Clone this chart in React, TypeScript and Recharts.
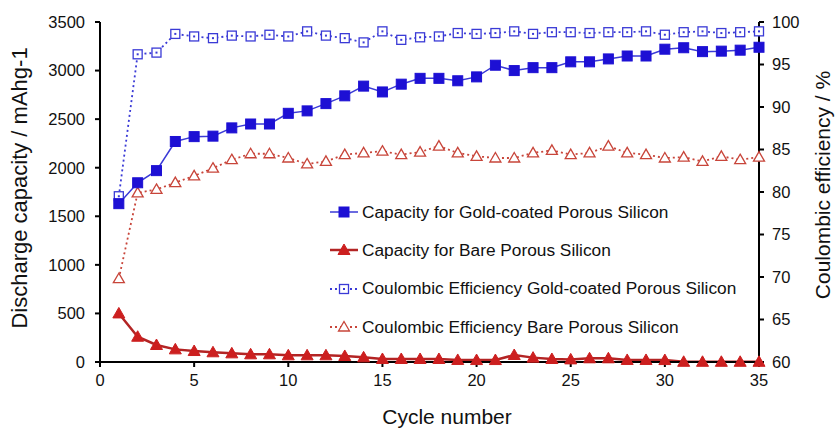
import React from 'react';
import { ComposedChart, Line, XAxis, YAxis } from 'recharts';

const cycles = [1, 2, 3, 4, 5, 6, 7, 8, 9, 10, 11, 12, 13, 14, 15, 16, 17, 18, 19, 20, 21, 22, 23, 24, 25, 26, 27, 28, 29, 30, 31, 32, 33, 34, 35];
const goldCapacity = [1630, 1845, 1970, 2270, 2320, 2325, 2410, 2450, 2450, 2560, 2585, 2660, 2740, 2840, 2780, 2860, 2920, 2920, 2895, 2935, 3055, 3000, 3030, 3030, 3090, 3090, 3120, 3150, 3150, 3220, 3235, 3195, 3200, 3210, 3240];
const bareCapacity = [500, 260, 175, 130, 113, 100, 89, 79, 79, 69, 69, 69, 62, 48, 31, 31, 31, 31, 21, 20, 20, 72, 45, 31, 27, 38, 38, 21, 21, 20, 2, 2, 2, 2, 2];
const goldCE = [79.5, 96.2, 96.4, 98.6, 98.3, 98.1, 98.4, 98.3, 98.5, 98.3, 98.9, 98.4, 98.1, 97.6, 98.9, 97.9, 98.2, 98.3, 98.7, 98.6, 98.7, 98.9, 98.6, 98.8, 98.8, 98.7, 98.8, 98.8, 98.9, 98.5, 98.8, 98.9, 98.7, 98.8, 98.9];
const bareCE = [69.8, 79.9, 80.3, 81.1, 81.9, 82.8, 83.8, 84.5, 84.5, 84.0, 83.3, 83.6, 84.4, 84.6, 84.8, 84.4, 84.7, 85.4, 84.6, 84.2, 84.0, 84.0, 84.6, 84.9, 84.4, 84.6, 85.4, 84.6, 84.4, 84.0, 84.1, 83.6, 84.2, 83.8, 84.1];

const xTicks = [0, 5, 10, 15, 20, 25, 30, 35];
const leftTicks = [0, 500, 1000, 1500, 2000, 2500, 3000, 3500];
const rightTicks = [60, 65, 70, 75, 80, 85, 90, 95, 100];

const seriesNames = [
  'Capacity for Gold-coated Porous Silicon',
  'Capacity for Bare Porous Silicon',
  'Coulombic Efficiency Gold-coated Porous Silicon',
  'Coulombic Efficiency Bare Porous Silicon',
];

const data = cycles.map((c, i) => ({
  cycle: c,
  goldCap: goldCapacity[i],
  bareCap: bareCapacity[i],
  goldCE: goldCE[i],
  bareCE: bareCE[i],
}));

const BLUE = '#1d10d4';
const BLUE_LINE = '#3a3ad6';
const RED = '#cc1f1f';
const RED_LINE = '#b32424';
const RED_OPEN = '#c8453a';

const FONT = '"Liberation Sans", Arial, sans-serif';

type Kind = 'fsq' | 'ftri' | 'osq' | 'otri';

function marker(kind: Kind, cx: number, cy: number, key?: string) {
  if (kind === 'fsq') {
    return <rect key={key} x={cx - 5} y={cy - 5} width={10} height={10} fill={BLUE} stroke={BLUE} strokeWidth={1} />;
  }
  if (kind === 'osq') {
    return (
      <g key={key}>
        <rect x={cx - 4.5} y={cy - 4.5} width={9} height={9} fill="#fff" stroke={BLUE_LINE} strokeWidth={1.3} />
        <rect x={cx - 1} y={cy - 1} width={2} height={2} fill={BLUE_LINE} />
      </g>
    );
  }
  if (kind === 'ftri') {
    return <path key={key} d={`M${cx},${cy - 6}L${cx + 6},${cy + 4.5}L${cx - 6},${cy + 4.5}Z`} fill={RED} stroke={RED} strokeWidth={1} />;
  }
  return <path key={key} d={`M${cx},${cy - 5.5}L${cx + 5.5},${cy + 4}L${cx - 5.5},${cy + 4}Z`} fill="#fff" stroke={RED_OPEN} strokeWidth={1.3} />;
}

const dotFor = (kind: Kind) => (props: any) => marker(kind, props.cx, props.cy, `${kind}-${props.index}`);

const legendRows: { kind: Kind; color: string; dash?: string; width: number }[] = [
  { kind: 'fsq', color: BLUE_LINE, width: 1.5 },
  { kind: 'ftri', color: RED_LINE, width: 2.5 },
  { kind: 'osq', color: BLUE_LINE, dash: '2 3', width: 1.8 },
  { kind: 'otri', color: RED_OPEN, dash: '2 3', width: 1.8 },
];

const LegendBox = () => (
  <div style={{ position: 'absolute', left: 328, top: 193, fontFamily: FONT, fontSize: 17.3, color: '#111' }}>
    {legendRows.map((r, i) => (
      <div key={i} style={{ display: 'flex', alignItems: 'center', height: 38.3, whiteSpace: 'nowrap' }}>
        <svg width={32} height={16} style={{ marginRight: 2 }}>
          <line x1={2} y1={8} x2={30} y2={8} stroke={r.color} strokeWidth={r.width} strokeDasharray={r.dash} />
          {marker(r.kind, 16, 8)}
        </svg>
        <span>{seriesNames[i]}</span>
      </div>
    ))}
  </div>
);

const tickStyle = { fill: '#111', fontSize: 16.5, fontFamily: FONT };

export default function App() {
  return (
    <div style={{ position: 'absolute', left: 0, top: 0, width: 836, height: 429, background: '#fff' }}>
      <ComposedChart width={836} height={429} data={data} margin={{ top: 22, right: 0, bottom: 0, left: 0 }}>
        <XAxis
          dataKey="cycle"
          type="number"
          domain={[0, 35]}
          ticks={xTicks}
          height={67}
          axisLine={{ stroke: '#000', strokeWidth: 2 }}
          tickLine={{ stroke: '#000', strokeWidth: 2 }}
          tickSize={5}
          tickMargin={7}
          tick={tickStyle}
          label={{
            content: () => (
              <text x={447} y={424} textAnchor="middle" fontSize={21} fontFamily={FONT} fill="#111">
                Cycle number
              </text>
            ),
          }}
        />
        <YAxis
          yAxisId="left"
          domain={[0, 3500]}
          ticks={leftTicks}
          width={100}
          axisLine={{ stroke: '#000', strokeWidth: 2 }}
          tickLine={{ stroke: '#000', strokeWidth: 2 }}
          tickSize={5}
          tickMargin={10}
          tick={tickStyle}
          label={{
            content: () => (
              <text x={0} y={0} transform="translate(27,188) rotate(-90)" textAnchor="middle" fontSize={22} fontFamily={FONT} fill="#111">
                Discharge capacity / mAhg-1
              </text>
            ),
          }}
        />
        <YAxis
          yAxisId="right"
          orientation="right"
          domain={[60, 100]}
          ticks={rightTicks}
          width={77}
          axisLine={{ stroke: '#000', strokeWidth: 2 }}
          tickLine={{ stroke: '#000', strokeWidth: 2 }}
          tickSize={5}
          tickMargin={8}
          tick={tickStyle}
          label={{
            content: () => (
              <text x={0} y={0} transform="translate(830,185) rotate(-90)" textAnchor="middle" fontSize={21} fontFamily={FONT} fill="#111">
                Coulombic efficiency / %
              </text>
            ),
          }}
        />
        <Line yAxisId="right" dataKey="bareCE" name={seriesNames[3]} stroke={RED_OPEN} strokeWidth={1.8} strokeDasharray="2 3" dot={dotFor('otri')} isAnimationActive={false} />
        <Line yAxisId="right" dataKey="goldCE" name={seriesNames[2]} stroke={BLUE_LINE} strokeWidth={1.8} strokeDasharray="2 3" dot={dotFor('osq')} isAnimationActive={false} />
        <Line yAxisId="left" dataKey="bareCap" name={seriesNames[1]} stroke={RED_LINE} strokeWidth={2.5} dot={dotFor('ftri')} isAnimationActive={false} />
        <Line yAxisId="left" dataKey="goldCap" name={seriesNames[0]} stroke={BLUE_LINE} strokeWidth={1.5} dot={dotFor('fsq')} isAnimationActive={false} />
      </ComposedChart>
      <LegendBox />
    </div>
  );
}
